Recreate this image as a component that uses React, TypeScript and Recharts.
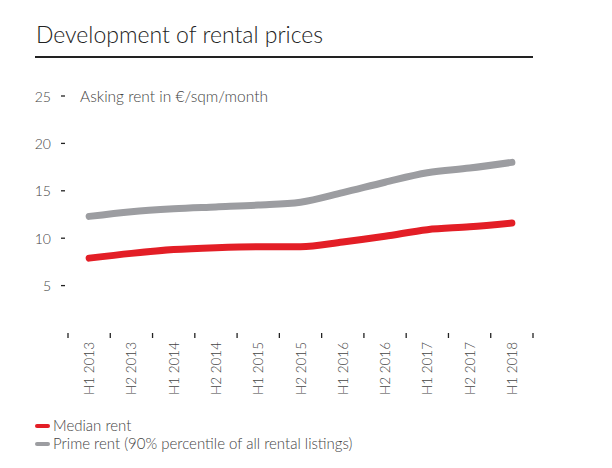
import { LineChart, Line, XAxis, YAxis } from 'recharts'

const periods = ['H1 2013', 'H2 2013', 'H1 2014', 'H2 2014', 'H1 2015', 'H2 2015', 'H1 2016', 'H2 2016', 'H1 2017', 'H2 2017', 'H1 2018']
const medianRent = [7.9, 8.4, 8.8, 9.0, 9.1, 9.1, 9.6, 10.2, 10.9, 11.2, 11.6]
const primeRent = [12.3, 12.8, 13.1, 13.3, 13.5, 13.8, 14.8, 15.9, 16.9, 17.4, 18.0]
const yTicks = [5, 10, 15, 20, 25]

const RED = '#e31e26'
const GREY = '#9c9da1'
const TXT = '#444'
const FONT = 'Lato, "Open Sans", sans-serif'

const rows = periods.map((p, i) => ({ i, period: p, median: medianRent[i], prime: primeRent[i] }))
// tick marks sit between periods, labels on the periods
const xTicks = [...periods.map((_, i) => i - 0.5), periods.length - 0.5, ...periods.map((_, i) => i)].sort((a, b) => a - b)

function YTick({ x, y, payload }: { x: number; y: number; payload: { value: number } }) {
  return (
    <g>
      <text x={x - 17} y={y} textAnchor="end" dominantBaseline="central" fontSize={14} fill={TXT} fontFamily={FONT} fontWeight={300}>{payload.value}</text>
      <line x1={x - 7} x2={x - 3} y1={y} y2={y} stroke="#222" strokeWidth={1.3} />
      {payload.value === 25 && (
        <text x={x + 12} y={y} dominantBaseline="central" fontSize={15.5} fill={TXT} fontFamily={FONT} fontWeight={300}>Asking rent in €/sqm/month</text>
      )}
    </g>
  )
}

function XTick({ x, y, payload }: { x: number; y: number; payload: { value: number } }) {
  const v = payload.value
  if (!Number.isInteger(v)) return <line x1={x} x2={x} y1={y} y2={y + 5} stroke="#222" strokeWidth={1.3} />
  return (
    <text x={x} y={y + 9} transform={`rotate(-90, ${x}, ${y + 9})`} textAnchor="end" dominantBaseline="central"
      fontSize={13.5} fill={TXT} fontFamily={FONT} fontWeight={300}>{periods[v]}</text>
  )
}

function Key({ color, label, top }: { color: string; label: string; top: number }) {
  return (
    <div style={{ position: 'absolute', left: 35, top, height: 17, display: 'flex', alignItems: 'center', fontSize: 15, color: TXT, fontFamily: FONT, fontWeight: 300, lineHeight: '17px' }}>
      <span style={{ display: 'inline-block', width: 15, height: 4, borderRadius: 2, background: color, marginRight: 3 }} />
      {label}
    </div>
  )
}

export default function App() {
  return (
    <div style={{ position: 'absolute', left: 0, top: 0, width: 612, height: 468, background: '#fff' }}>
      <div style={{ position: 'absolute', left: 36, top: 22, fontSize: 23, lineHeight: '24px', color: '#222', fontFamily: FONT, fontWeight: 300 }}>
        Development of rental prices
      </div>
      <div style={{ position: 'absolute', left: 35, top: 56, width: 498, height: 1.5, background: '#222' }} />
      <LineChart width={612} height={468} data={rows} margin={{ top: 96, right: 79, bottom: 5, left: 28 }}>
        <XAxis dataKey="i" type="number" domain={[-0.5, periods.length - 0.5]} ticks={xTicks} interval={0}
          axisLine={false} tickLine={false} tickSize={0} tickMargin={0} height={130} tick={XTick as any} />
        <YAxis type="number" domain={[0, 25]} ticks={yTicks} width={40} axisLine={false} tickLine={false}
          tickSize={0} tickMargin={0} tick={YTick as any} />
        <Line dataKey="prime" stroke={GREY} strokeWidth={7} strokeLinecap="round" type="monotone" dot={false} isAnimationActive={false} />
        <Line dataKey="median" stroke={RED} strokeWidth={7} strokeLinecap="round" type="monotone" dot={false} isAnimationActive={false} />
      </LineChart>
      <Key color={RED} label="Median rent" top={417} />
      <Key color={GREY} label="Prime rent (90% percentile of all rental listings)" top={435} />
    </div>
  )
}
